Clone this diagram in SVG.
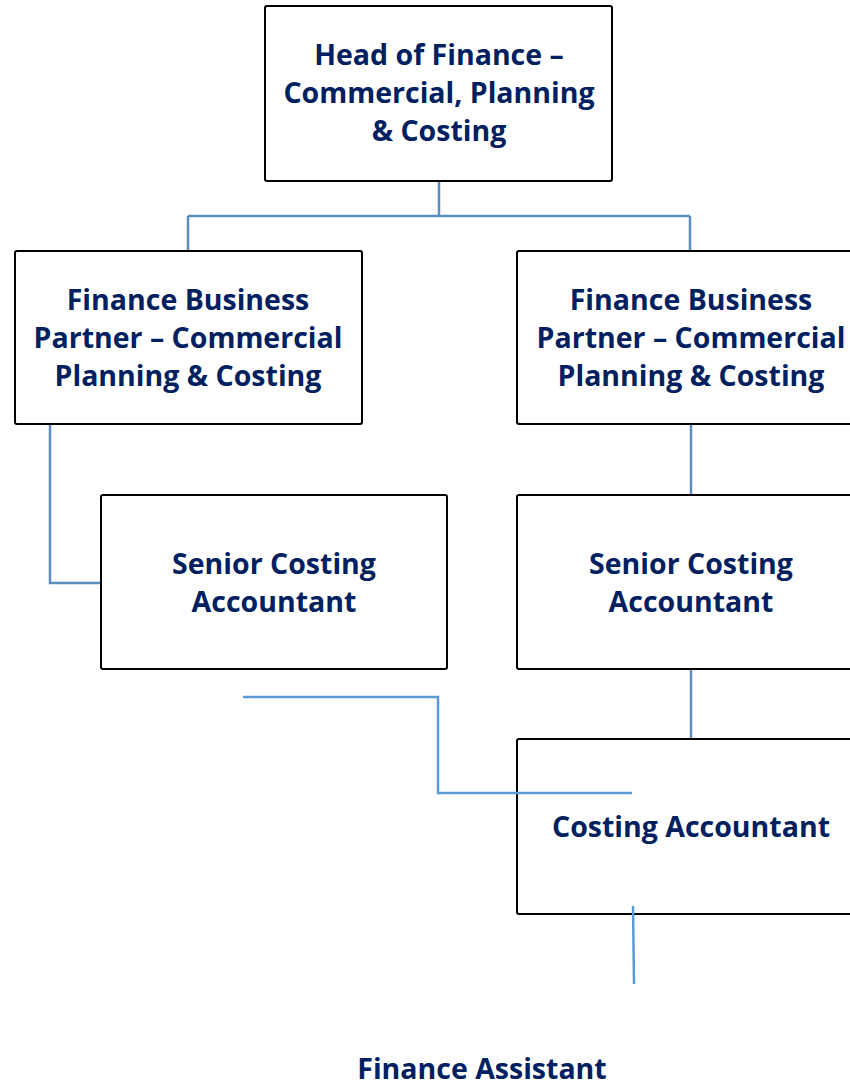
<svg xmlns="http://www.w3.org/2000/svg" width="850" height="1085" viewBox="0 0 850 1085">
<style>
.box{fill:#fff;stroke:#000;stroke-width:2}
.t{font-family:"Open Sans","Noto Sans","Liberation Sans",sans-serif;font-weight:bold;font-size:28.5px;fill:#002060;text-anchor:middle}
.c{fill:none;stroke:#5a8ec0;stroke-width:2.5}
.c2{fill:none;stroke:#5b9bd5;stroke-width:2.5}
</style>
<rect width="850" height="1085" fill="#fff"/>
<g id="head">
<rect class="box" x="265" y="6" width="347" height="175" rx="2"/>
<text class="t" x="439" y="65">Head of Finance –</text>
<text class="t" x="439" y="103">Commercial, Planning</text>
<text class="t" x="439" y="141">&amp; Costing</text>
</g>
<g id="fbp-left">
<rect class="box" x="15" y="251" width="347" height="173" rx="2"/>
<text class="t" x="188" y="310">Finance Business</text>
<text class="t" x="188" y="348">Partner – Commercial</text>
<text class="t" x="188" y="386">Planning &amp; Costing</text>
</g>
<g id="fbp-right">
<rect class="box" x="517" y="251" width="347" height="173" rx="2"/>
<text class="t" x="691" y="310">Finance Business</text>
<text class="t" x="691" y="348">Partner – Commercial</text>
<text class="t" x="691" y="386">Planning &amp; Costing</text>
</g>
<g id="sca-left">
<rect class="box" x="101" y="495" width="346" height="174" rx="2"/>
<text class="t" x="274" y="574">Senior Costing</text>
<text class="t" x="274" y="612">Accountant</text>
</g>
<g id="sca-right">
<rect class="box" x="517" y="495" width="347" height="174" rx="2"/>
<text class="t" x="691" y="574">Senior Costing</text>
<text class="t" x="691" y="612">Accountant</text>
</g>
<g id="ca">
<rect class="box" x="517" y="739" width="347" height="175" rx="2"/>
<text class="t" x="691" y="837">Costing Accountant</text>
</g>
<g id="fa">
<text class="t" x="482" y="1079">Finance Assistant</text>
</g>
<g id="connectors">
<path class="c" d="M439 182V216M188 216H690M188 216V250M690 216V250"/>
<path class="c" d="M50 425V583H100"/>
<path class="c" d="M691 425V494M691 670V738"/>
<path class="c2" d="M243 697H438V793H632"/>
<path class="c2" d="M633 906L634 984"/>
</g>
</svg>
